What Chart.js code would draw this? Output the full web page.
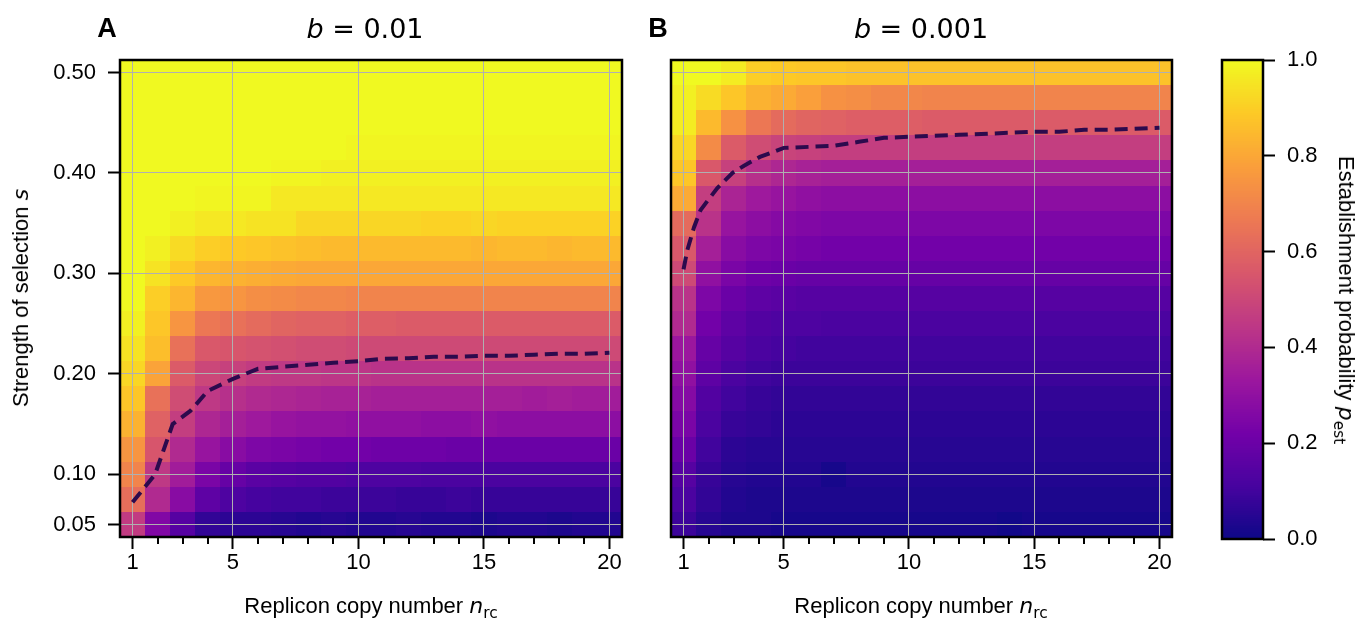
<!DOCTYPE html>
<html>
<head>
<meta charset="utf-8">
<script src="https://cdn.jsdelivr.net/npm/chart.js@4.4.0/dist/chart.umd.min.js"></script>
<style>
  body { margin: 0; background: #fff; width: 1369px; height: 618px; position: relative; overflow: hidden; font-family: "Liberation Sans", Arial, sans-serif; }
  canvas { position: absolute; top: 0; }
  .lbl { position: absolute; white-space: nowrap; color: #000; transform: translate(-50%, -50%); }
  .lbl i { font-family: "DejaVu Sans", sans-serif; }
  .lbl sub { font-family: "DejaVu Sans", sans-serif; font-size: 0.7em; vertical-align: -0.35em; line-height: 0; }
  .panel { font-size: 27px; font-weight: bold; }
  .title { font-family: "DejaVu Sans", sans-serif; font-size: 27px; }
  .axt { font-size: 22px; }
</style>
</head>
<body>
<canvas id="chartA" width="640" height="618" style="left:0px"></canvas>
<canvas id="chartB" width="560" height="618" style="left:640px"></canvas>
<canvas id="chartC" width="169" height="618" style="left:1200px"></canvas>

<div class="lbl panel" style="left:107px; top:28px">A</div>
<div class="lbl title" style="left:365px; top:28px"><i>b</i> = 0.01</div>
<div class="lbl panel" style="left:658px; top:28px">B</div>
<div class="lbl title" style="left:921px; top:28px"><i>b</i> = 0.001</div>
<div class="lbl axt" style="left:371px; top:606px">Replicon copy number <i>n</i><sub>rc</sub></div>
<div class="lbl axt" style="left:921px; top:606px">Replicon copy number <i>n</i><sub>rc</sub></div>
<div class="lbl axt" style="left:21px; top:298px; transform: translate(-50%, -50%) rotate(-90deg)">Strength of selection <i>s</i></div>
<div class="lbl axt" style="left:1346px; top:300px; transform: translate(-50%, -50%) rotate(90deg)">Establishment probability <i>p</i><sub>est</sub></div>

<script>
// replicon copy number (columns) and selection strength (rows, bottom to top)
const copyNumbers = [1, 2, 3, 4, 5, 6, 7, 8, 9, 10, 11, 12, 13, 14, 15, 16, 17, 18, 19, 20];
const selection = [0.05, 0.075, 0.10, 0.125, 0.15, 0.175, 0.20, 0.225, 0.25, 0.275, 0.30,
                   0.325, 0.35, 0.375, 0.40, 0.425, 0.45, 0.475, 0.50];
const xMajorTicks = [1, 5, 10, 15, 20];
const xMinorTicks = [2, 3, 4, 6, 7, 8, 9, 11, 12, 13, 14, 16, 17, 18, 19];
const yTicks = [0.05, 0.10, 0.20, 0.30, 0.40, 0.50];
const cbarTicks = [0, 0.2, 0.4, 0.6, 0.8, 1.0];

// establishment probability, b = 0.01 (one row per selection value)
const pestA = [
  [0.46,0.26,0.15,0.07,0.06,0.06,0.05,0.04,0.05,0.04,0.04,0.05,0.04,0.04,0.03,0.04,0.04,0.03,0.04,0.04],
  [0.63,0.40,0.28,0.17,0.13,0.11,0.10,0.10,0.09,0.09,0.09,0.08,0.08,0.09,0.08,0.08,0.08,0.08,0.08,0.08],
  [0.70,0.45,0.35,0.24,0.19,0.16,0.15,0.14,0.14,0.13,0.13,0.13,0.12,0.12,0.12,0.12,0.12,0.12,0.12,0.12],
  [0.75,0.55,0.40,0.32,0.28,0.25,0.24,0.23,0.22,0.22,0.21,0.21,0.21,0.20,0.20,0.20,0.20,0.20,0.20,0.20],
  [0.83,0.59,0.47,0.39,0.36,0.34,0.32,0.31,0.31,0.30,0.30,0.30,0.29,0.29,0.30,0.29,0.29,0.29,0.29,0.29],
  [0.88,0.64,0.52,0.45,0.42,0.40,0.39,0.38,0.37,0.37,0.36,0.36,0.36,0.36,0.36,0.36,0.35,0.36,0.35,0.35],
  [0.92,0.79,0.57,0.50,0.48,0.46,0.45,0.45,0.44,0.44,0.43,0.43,0.43,0.43,0.43,0.43,0.43,0.43,0.43,0.43],
  [0.95,0.86,0.64,0.56,0.55,0.54,0.53,0.52,0.52,0.51,0.51,0.51,0.51,0.51,0.51,0.51,0.51,0.51,0.51,0.51],
  [0.98,0.88,0.75,0.66,0.64,0.62,0.60,0.59,0.59,0.58,0.58,0.57,0.57,0.57,0.57,0.57,0.57,0.57,0.57,0.57],
  [1.00,0.90,0.84,0.76,0.75,0.73,0.72,0.71,0.71,0.70,0.70,0.70,0.70,0.70,0.70,0.70,0.70,0.70,0.70,0.70],
  [1.00,0.95,0.89,0.84,0.83,0.82,0.81,0.80,0.80,0.80,0.80,0.80,0.80,0.80,0.80,0.80,0.80,0.80,0.80,0.80],
  [1.00,0.98,0.93,0.90,0.89,0.88,0.87,0.86,0.85,0.85,0.85,0.85,0.85,0.85,0.84,0.85,0.85,0.84,0.85,0.85],
  [1.00,1.00,0.98,0.96,0.96,0.95,0.95,0.92,0.92,0.92,0.92,0.92,0.91,0.91,0.92,0.91,0.91,0.91,0.91,0.91],
  [1.00,1.00,1.00,0.99,0.99,0.99,0.96,0.96,0.96,0.96,0.96,0.96,0.96,0.96,0.96,0.96,0.96,0.96,0.96,0.96],
  [1.00,1.00,1.00,1.00,1.00,1.00,0.99,0.99,0.98,0.98,0.98,0.98,0.98,0.98,0.98,0.98,0.98,0.98,0.98,0.98],
  [1.00,1.00,1.00,1.00,1.00,1.00,1.00,1.00,1.00,0.99,0.99,0.99,0.99,0.99,0.99,0.99,0.99,0.99,0.99,0.99],
  [1.00,1.00,1.00,1.00,1.00,1.00,1.00,1.00,1.00,1.00,1.00,1.00,1.00,1.00,1.00,1.00,1.00,1.00,1.00,1.00],
  [1.00,1.00,1.00,1.00,1.00,1.00,1.00,1.00,1.00,1.00,1.00,1.00,1.00,1.00,1.00,1.00,1.00,1.00,1.00,1.00],
  [1.00,1.00,1.00,1.00,1.00,1.00,1.00,1.00,1.00,1.00,1.00,1.00,1.00,1.00,1.00,1.00,1.00,1.00,1.00,1.00]
];

// establishment probability, b = 0.001
const pestB = [
  [0.09,0.05,0.03,0.03,0.02,0.02,0.02,0.02,0.02,0.02,0.02,0.02,0.02,0.01,0.02,0.02,0.02,0.02,0.02,0.02],
  [0.12,0.07,0.04,0.03,0.03,0.03,0.03,0.03,0.03,0.03,0.03,0.03,0.03,0.03,0.03,0.03,0.03,0.03,0.03,0.03],
  [0.15,0.08,0.05,0.04,0.04,0.04,0.02,0.04,0.04,0.04,0.04,0.04,0.04,0.04,0.04,0.04,0.04,0.04,0.04,0.04],
  [0.20,0.10,0.06,0.05,0.05,0.05,0.05,0.05,0.05,0.05,0.05,0.05,0.05,0.05,0.05,0.05,0.05,0.05,0.05,0.05],
  [0.24,0.12,0.08,0.07,0.06,0.06,0.06,0.06,0.06,0.06,0.06,0.06,0.06,0.06,0.06,0.06,0.06,0.06,0.06,0.06],
  [0.27,0.14,0.10,0.08,0.07,0.07,0.07,0.07,0.07,0.07,0.07,0.07,0.07,0.07,0.07,0.07,0.07,0.07,0.07,0.07],
  [0.30,0.17,0.12,0.10,0.09,0.09,0.09,0.09,0.09,0.09,0.09,0.09,0.09,0.09,0.09,0.09,0.09,0.09,0.09,0.09],
  [0.33,0.19,0.15,0.12,0.11,0.10,0.10,0.10,0.10,0.10,0.10,0.10,0.10,0.10,0.10,0.10,0.10,0.10,0.10,0.10],
  [0.40,0.22,0.17,0.14,0.13,0.13,0.12,0.12,0.12,0.12,0.12,0.12,0.12,0.12,0.12,0.12,0.12,0.12,0.12,0.12],
  [0.43,0.25,0.20,0.17,0.16,0.15,0.15,0.15,0.15,0.15,0.15,0.15,0.15,0.15,0.15,0.15,0.15,0.15,0.15,0.15],
  [0.51,0.30,0.24,0.21,0.20,0.19,0.19,0.19,0.19,0.19,0.19,0.19,0.19,0.19,0.19,0.19,0.19,0.19,0.19,0.19],
  [0.56,0.36,0.28,0.25,0.24,0.23,0.22,0.22,0.22,0.22,0.22,0.22,0.22,0.22,0.22,0.22,0.22,0.22,0.22,0.22],
  [0.62,0.43,0.32,0.29,0.27,0.26,0.25,0.25,0.25,0.25,0.25,0.25,0.25,0.25,0.25,0.25,0.25,0.25,0.25,0.25],
  [0.81,0.47,0.38,0.34,0.32,0.30,0.29,0.29,0.29,0.29,0.29,0.29,0.29,0.29,0.29,0.29,0.29,0.29,0.29,0.29],
  [0.88,0.56,0.48,0.42,0.39,0.37,0.36,0.36,0.36,0.36,0.36,0.36,0.36,0.36,0.36,0.36,0.36,0.36,0.36,0.36],
  [0.92,0.72,0.57,0.52,0.49,0.48,0.47,0.47,0.47,0.47,0.47,0.47,0.47,0.47,0.47,0.47,0.47,0.47,0.47,0.47],
  [0.97,0.85,0.74,0.66,0.62,0.60,0.59,0.58,0.58,0.58,0.57,0.57,0.57,0.57,0.57,0.57,0.57,0.57,0.57,0.57],
  [0.98,0.93,0.88,0.83,0.81,0.78,0.74,0.73,0.71,0.71,0.70,0.70,0.70,0.70,0.70,0.70,0.70,0.70,0.70,0.70],
  [1.00,1.00,0.97,0.90,0.89,0.88,0.88,0.87,0.87,0.87,0.87,0.87,0.87,0.87,0.87,0.87,0.87,0.87,0.87,0.87]
];

// dashed threshold curves (copy number, selection)
const lineA_n = [1, 1.9, 2.6, 3.3, 4.0, 5.0, 6.0, 7.0, 8.0, 9.0, 10.0, 11.0, 12.0, 13.0, 14.0, 15.0, 16.0, 17.0, 18.0, 19.0, 20.0];
const lineA_s = [0.072, 0.100, 0.150, 0.163, 0.183, 0.195, 0.205, 0.207, 0.209, 0.211, 0.2125, 0.215, 0.2155, 0.217, 0.217, 0.218, 0.218, 0.219, 0.220, 0.220, 0.221];
const lineB_n = [1, 1.15, 1.42, 1.68, 1.95, 2.35, 2.95, 3.4, 4.05, 5.0, 6, 7, 8, 9, 10, 12, 14, 15, 16, 17, 18, 20];
const lineB_s = [0.304, 0.323, 0.346, 0.363, 0.372, 0.385, 0.400, 0.407, 0.416, 0.425, 0.426, 0.427, 0.431, 0.435, 0.436, 0.438, 0.440, 0.441, 0.441, 0.443, 0.443, 0.445];

// plasma colormap
const plasmaStops = ['#0d0887', '#47039f', '#7301a8', '#9c179e', '#bd3786', '#d8576b', '#ed7953', '#fa9e3b', '#fdc926', '#f0f921'];

function hexToRgb(h) {
    return [parseInt(h.slice(1, 3), 16), parseInt(h.slice(3, 5), 16), parseInt(h.slice(5, 7), 16)];
}
const plasmaRgb = plasmaStops.map(hexToRgb);

function plasma(v) {
    v = Math.max(0, Math.min(1, v));
    const pos = v * (plasmaRgb.length - 1);
    const i = Math.min(Math.floor(pos), plasmaRgb.length - 2);
    const f = pos - i;
    const a = plasmaRgb[i], b = plasmaRgb[i + 1];
    const c = a.map((av, k) => Math.round(av + (b[k] - av) * f));
    return `rgb(${c[0]}, ${c[1]}, ${c[2]})`;
}

// draws the cells before the grid, so grid lines sit on top
const heatmapPlugin = {
    id: 'heatmap',
    beforeDraw(chart, args, opts) {
        if (!opts.values) return;
        const ctx = chart.ctx;
        const x = chart.scales.x, y = chart.scales.y;
        ctx.save();
        opts.values.forEach((row, j) => {
            const s = selection[j];
            const sLo = j > 0 ? (s + selection[j - 1]) / 2 : s - (selection[1] - selection[0]) / 2;
            const sHi = j < selection.length - 1 ? (s + selection[j + 1]) / 2 : s + (s - selection[j - 1]) / 2;
            const top = Math.round(y.getPixelForValue(sHi));
            const bottom = Math.round(y.getPixelForValue(sLo));
            row.forEach((v, i) => {
                const n = copyNumbers[i];
                const left = Math.round(x.getPixelForValue(n - 0.5));
                const right = Math.round(x.getPixelForValue(n + 0.5));
                ctx.fillStyle = plasma(v);
                ctx.fillRect(left, top, right - left, bottom - top);
            });
        });
        ctx.restore();
    }
};

// black frame and short minor ticks
const framePlugin = {
    id: 'frame',
    afterDraw(chart, args, opts) {
        const ctx = chart.ctx;
        const a = chart.chartArea;
        ctx.save();
        ctx.strokeStyle = '#000';
        if (opts.minor) {
            ctx.lineWidth = 2;
            opts.minor.forEach(v => {
                const px = Math.round(chart.scales.x.getPixelForValue(v));
                ctx.beginPath();
                ctx.moveTo(px, a.bottom);
                ctx.lineTo(px, a.bottom + 7);
                ctx.stroke();
            });
        }
        ctx.lineWidth = 2.5;
        ctx.strokeRect(a.left, a.top, a.right - a.left, a.bottom - a.top);
        ctx.restore();
    }
};

const tickFont = { family: 'Liberation Sans', size: 22 };

function panelConfig(values, lineN, lineS, showYLabels, yWidth, rightPad) {
    return {
        type: 'line',
        data: {
            datasets: [{
                data: lineN.map((n, i) => ({ x: n, y: lineS[i] })),
                borderColor: '#2c0a4d',
                borderWidth: 4,
                borderDash: [13, 7],
                pointRadius: 0,
                fill: false,
                tension: 0
            }]
        },
        options: {
            responsive: false,
            animation: false,
            events: [],
            layout: { padding: { top: 60, right: rightPad, bottom: 31, left: 0 } },
            plugins: {
                legend: { display: false },
                tooltip: { enabled: false },
                heatmap: { values: values },
                frame: { minor: xMinorTicks }
            },
            scales: {
                x: {
                    type: 'linear',
                    min: 0.5,
                    max: 20.5,
                    afterBuildTicks: s => { s.ticks = xMajorTicks.map(v => ({ value: v })); },
                    afterFit: s => { s.height = 50; },
                    ticks: { font: tickFont, color: '#000', padding: 1, maxRotation: 0, callback: v => String(v) },
                    grid: { color: '#b0b0b0', lineWidth: 1, tickLength: 12, tickColor: '#000', tickWidth: 2 },
                    border: { display: false }
                },
                y: {
                    type: 'linear',
                    min: 0.0375,
                    max: 0.5125,
                    afterBuildTicks: s => { s.ticks = yTicks.map(v => ({ value: v })); },
                    afterFit: s => { s.width = yWidth; },
                    ticks: { display: showYLabels, font: tickFont, color: '#000', padding: 12, callback: v => v.toFixed(2) },
                    grid: { color: '#b0b0b0', lineWidth: 1, drawTicks: showYLabels, tickLength: 12, tickColor: '#000', tickWidth: 2 },
                    border: { display: false }
                }
            }
        },
        plugins: [heatmapPlugin, framePlugin]
    };
}

new Chart(document.getElementById('chartA'), panelConfig(pestA, lineA_n, lineA_s, true, 120, 18));
new Chart(document.getElementById('chartB'), panelConfig(pestB, lineB_n, lineB_s, false, 31, 28));

// colour bar
const colorbarPlugin = {
    id: 'colorbar',
    beforeDraw(chart) {
        const ctx = chart.ctx;
        const a = chart.chartArea;
        const y = chart.scales.y;
        const steps = 256;
        ctx.save();
        for (let k = 0; k < steps; k++) {
            const lo = k / steps, hi = (k + 1) / steps;
            const top = Math.floor(y.getPixelForValue(hi));
            const bottom = Math.ceil(y.getPixelForValue(lo));
            ctx.fillStyle = plasma((lo + hi) / 2);
            ctx.fillRect(a.left, top, a.right - a.left, bottom - top);
        }
        ctx.lineWidth = 2.5;
        ctx.strokeStyle = '#000';
        ctx.strokeRect(a.left, a.top, a.right - a.left, a.bottom - a.top);
        ctx.restore();
    }
};

new Chart(document.getElementById('chartC'), {
    type: 'scatter',
    data: { datasets: [] },
    options: {
        responsive: false,
        animation: false,
        events: [],
        layout: { padding: { top: 60, right: 46, bottom: 79, left: 22 } },
        plugins: { legend: { display: false }, tooltip: { enabled: false } },
        scales: {
            x: { display: false, min: 0, max: 1 },
            y: {
                position: 'right',
                min: 0,
                max: 1,
                afterBuildTicks: s => { s.ticks = cbarTicks.map(v => ({ value: v })); },
                afterFit: s => { s.width = 60; },
                ticks: { font: tickFont, color: '#000', padding: 12, callback: v => v.toFixed(1) },
                grid: { drawOnChartArea: false, tickLength: 12, tickColor: '#000', tickWidth: 2 },
                border: { display: false }
            }
        }
    },
    plugins: [colorbarPlugin]
});
</script>
</body>
</html>
